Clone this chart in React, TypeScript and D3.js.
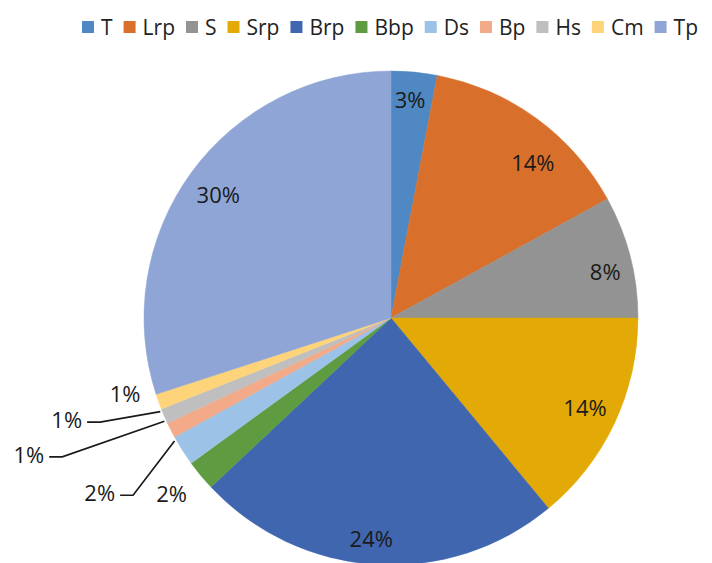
import React, { useEffect, useRef } from "react";
import * as d3 from "d3";

// Share of each category (percent)
const categories = ["T", "Lrp", "S", "Srp", "Brp", "Bbp", "Ds", "Bp", "Hs", "Cm", "Tp"];
const shares = [3, 14, 8, 14, 24, 2, 2, 1, 1, 1, 30];
const colors = [
  "#4f88c3", "#d8702b", "#939393", "#e3aa07", "#3f66af", "#5f9b40",
  "#9dc2e7", "#f2aa88", "#bfbfbf", "#fed47b", "#8fa5d5",
];

// Label placement relative to each slice's mid-angle (degrees, radius factor).
// Leader-lined labels carry an elbow point and a start-angle offset on the rim.
type Placement = { dA: number; k: number; leader?: { startDA: number } };
const placements: Placement[] = [
  { dA: -0.4, k: 0.887 },
  { dA: 6.5, k: 0.85 },
  { dA: 2.3, k: 0.887 },
  { dA: -0.3, k: 0.866 },
  { dA: 1.5, k: 0.9 },
  { dA: 0.8, k: 1.14 },
  { dA: -2.1, k: 1.267, leader: { startDA: 2.8 } },
  { dA: 4.1, k: 1.445, leader: { startDA: 2.5 } },
  { dA: 3.7, k: 1.251, leader: { startDA: 1.3 } },
  { dA: 3.8, k: 1.12 },
  { dA: -0.6, k: 0.858 },
];

const W = 712;
const H = 563;
const CX = 391;
const CY = 318;
const R = 247;
const FONT = "'Open Sans', Lato, sans-serif";
const LABEL_SIZE = 22;

export default function App() {
  const ref = useRef<SVGSVGElement>(null);

  useEffect(() => {
    const svg = d3.select(ref.current);
    svg.selectAll("*").remove();

    const data = categories.map((c, i) => ({ name: c, value: shares[i], color: colors[i], i }));
    const pie = d3.pie<any>().value((d) => d.value).sort(null).startAngle(0).endAngle(2 * Math.PI);
    const arcs = pie(data);
    const arc = d3.arc<any>().innerRadius(0).outerRadius(R);

    const g = svg.append("g").attr("transform", `translate(${CX},${CY})`);
    g.selectAll("path.slice")
      .data(arcs)
      .join("path")
      .attr("class", "slice")
      .attr("d", arc as any)
      .attr("fill", (d) => d.data.color)
      .attr("stroke", (d) => d.data.color)
      .attr("stroke-width", 0.5);

    const polar = (deg: number, r: number): [number, number] => {
      const a = (deg * Math.PI) / 180;
      return [r * Math.sin(a), -r * Math.cos(a)];
    };

    arcs.forEach((a, i) => {
      const p = placements[i];
      const mid = (((a.startAngle + a.endAngle) / 2) * 180) / Math.PI;
      const label = `${a.data.value}%`;
      if (p.leader) {
        const s = polar(mid + p.leader.startDA, R + 2);
        const e = polar(mid + p.dA, R * p.k);
        const end: [number, number] = [e[0] - 13, e[1]];
        g.append("path")
          .attr("d", d3.line()([s, e, end]) as string)
          .attr("fill", "none")
          .attr("stroke", "#1a1a1a")
          .attr("stroke-width", 1.7);
        g.append("text")
          .attr("x", end[0] - 5)
          .attr("y", e[1] - 2)
          .attr("dy", "0.36em")
          .attr("text-anchor", "end")
          .attr("font-family", FONT)
          .attr("font-size", LABEL_SIZE)
          .attr("fill", "#1a1a1a")
          .text(label);
      } else {
        const [x, y] = polar(mid + p.dA, R * p.k);
        g.append("text")
          .attr("x", x)
          .attr("y", y)
          .attr("dy", "0.36em")
          .attr("text-anchor", "middle")
          .attr("font-family", FONT)
          .attr("font-size", LABEL_SIZE)
          .attr("fill", "#1a1a1a")
          .text(label);
      }
    });

    // Legend across the top, centred on the pie
    const legend = svg.append("g");
    const items = legend.selectAll("g").data(data).join("g");
    items.append("rect").attr("width", 12).attr("height", 12).attr("y", 21).attr("fill", (d) => d.color);
    const texts = items
      .append("text")
      .attr("x", 19)
      .attr("y", 27)
      .attr("dy", "0.36em")
      .attr("font-family", FONT)
      .attr("font-size", 21)
      .attr("fill", "#222")
      .text((d) => d.name);
    let x = 0;
    const offsets: number[] = [];
    texts.each(function () {
      offsets.push(x);
      const w = (this as SVGTextElement).getComputedTextLength();
      x += 19 + w + 11;
    });
    const total = x - 11;
    const start = 390 - total / 2;
    items.attr("transform", (_d, i) => `translate(${start + offsets[i]},0)`);
  }, []);

  return (
    <svg
      ref={ref}
      width={W}
      height={H}
      style={{ position: "absolute", left: 0, top: 0, background: "#fff" }}
    />
  );
}
